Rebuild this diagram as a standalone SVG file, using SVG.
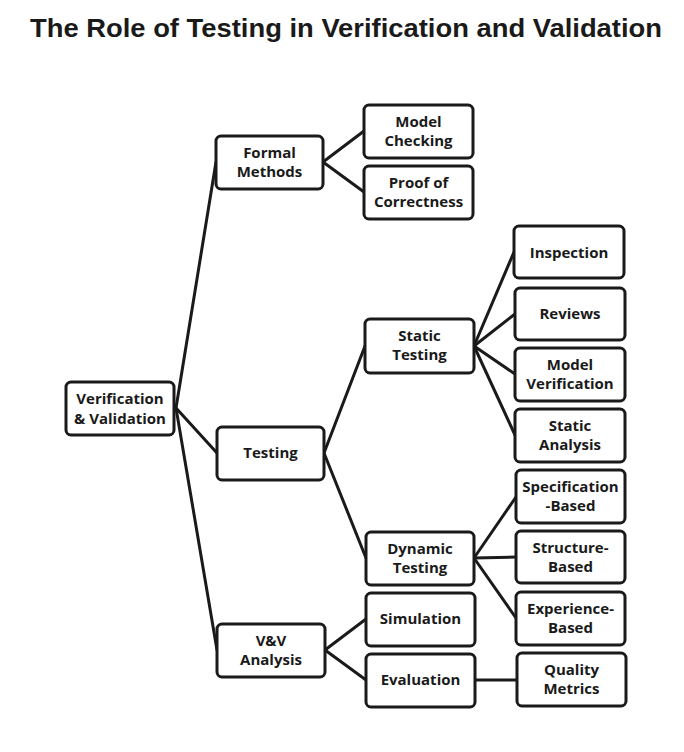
<svg xmlns="http://www.w3.org/2000/svg" width="684" height="752" viewBox="0 0 684 752">
<style>
.box{fill:#fff;stroke:#1a1a1a;stroke-width:3}
.t{font-family:"Open Sans",Lato,"Liberation Sans",sans-serif;font-weight:700;font-size:15px;fill:#1a1a1a;text-anchor:middle}
.title{font-family:"Liberation Sans",Arial,sans-serif;font-weight:700;font-size:25px;fill:#1a1a1a}
#connectors line{stroke:#1a1a1a;stroke-width:3;stroke-linecap:round}
</style>
<rect width="684" height="752" fill="#fff"/>
<text class="title" x="30" y="37" textLength="632" lengthAdjust="spacingAndGlyphs">The Role of Testing in Verification and Validation</text>
<g id="connectors">
<line x1="176" y1="408" x2="216" y2="162"/>
<line x1="176" y1="408" x2="217" y2="453"/>
<line x1="176" y1="408" x2="217" y2="650"/>
<line x1="323" y1="162" x2="364" y2="131"/>
<line x1="323" y1="162" x2="364" y2="192"/>
<line x1="324" y1="453" x2="365" y2="346"/>
<line x1="324" y1="453" x2="366" y2="558"/>
<line x1="474" y1="346" x2="514" y2="252"/>
<line x1="474" y1="346" x2="515" y2="314"/>
<line x1="474" y1="346" x2="515" y2="374"/>
<line x1="474" y1="346" x2="515" y2="435"/>
<line x1="474" y1="558" x2="516" y2="497"/>
<line x1="474" y1="558" x2="516" y2="557"/>
<line x1="474" y1="558" x2="516" y2="618"/>
<line x1="325" y1="650" x2="366" y2="619"/>
<line x1="325" y1="650" x2="366" y2="680"/>
<line x1="475" y1="680" x2="517" y2="680"/>
</g>
<g id="vv"><rect class="box" x="66" y="382" width="108" height="53" rx="5"/><text class="t" x="120" y="404">Verification</text><text class="t" x="120" y="424">&amp; Validation</text></g>
<g id="formal"><rect class="box" x="216" y="136" width="107" height="53" rx="5"/><text class="t" x="269.5" y="158">Formal</text><text class="t" x="269.5" y="177">Methods</text></g>
<g id="testing"><rect class="box" x="217" y="427" width="107" height="53" rx="5"/><text class="t" x="270.5" y="458">Testing</text></g>
<g id="vvanalysis"><rect class="box" x="217" y="624" width="108" height="53" rx="5"/><text class="t" x="271" y="646">V&amp;V</text><text class="t" x="271" y="665">Analysis</text></g>
<g id="modelchecking"><rect class="box" x="364" y="105" width="109" height="53" rx="5"/><text class="t" x="418.5" y="127">Model</text><text class="t" x="418.5" y="146">Checking</text></g>
<g id="proof"><rect class="box" x="364" y="166" width="109" height="53" rx="5"/><text class="t" x="418.5" y="188">Proof of</text><text class="t" x="418.5" y="207">Correctness</text></g>
<g id="static"><rect class="box" x="365" y="319" width="109" height="54" rx="5"/><text class="t" x="419.5" y="341">Static</text><text class="t" x="419.5" y="360">Testing</text></g>
<g id="dynamic"><rect class="box" x="366" y="532" width="108" height="53" rx="5"/><text class="t" x="420" y="554">Dynamic</text><text class="t" x="420" y="573">Testing</text></g>
<g id="simulation"><rect class="box" x="366" y="593" width="109" height="53" rx="5"/><text class="t" x="420.5" y="624">Simulation</text></g>
<g id="evaluation"><rect class="box" x="366" y="654" width="109" height="53" rx="5"/><text class="t" x="420.5" y="685">Evaluation</text></g>
<g id="inspection"><rect class="box" x="514" y="226" width="110" height="52" rx="5"/><text class="t" x="569" y="258">Inspection</text></g>
<g id="reviews"><rect class="box" x="515" y="288" width="110" height="52" rx="5"/><text class="t" x="570" y="319">Reviews</text></g>
<g id="modelver"><rect class="box" x="515" y="348" width="110" height="53" rx="5"/><text class="t" x="570" y="370">Model</text><text class="t" x="570" y="389">Verification</text></g>
<g id="staticanalysis"><rect class="box" x="515" y="409" width="110" height="53" rx="5"/><text class="t" x="570" y="431">Static</text><text class="t" x="570" y="450">Analysis</text></g>
<g id="specbased"><rect class="box" x="516" y="470" width="109" height="53" rx="5"/><text class="t" x="570.5" y="492">Specification</text><text class="t" x="570.5" y="511">-Based</text></g>
<g id="structbased"><rect class="box" x="516" y="531" width="109" height="52" rx="5"/><text class="t" x="570.5" y="553">Structure-</text><text class="t" x="570.5" y="572">Based</text></g>
<g id="expbased"><rect class="box" x="516" y="592" width="109" height="53" rx="5"/><text class="t" x="570.5" y="614">Experience-</text><text class="t" x="570.5" y="633">Based</text></g>
<g id="quality"><rect class="box" x="517" y="653" width="109" height="53" rx="5"/><text class="t" x="571.5" y="675">Quality</text><text class="t" x="571.5" y="694">Metrics</text></g>
</svg>
